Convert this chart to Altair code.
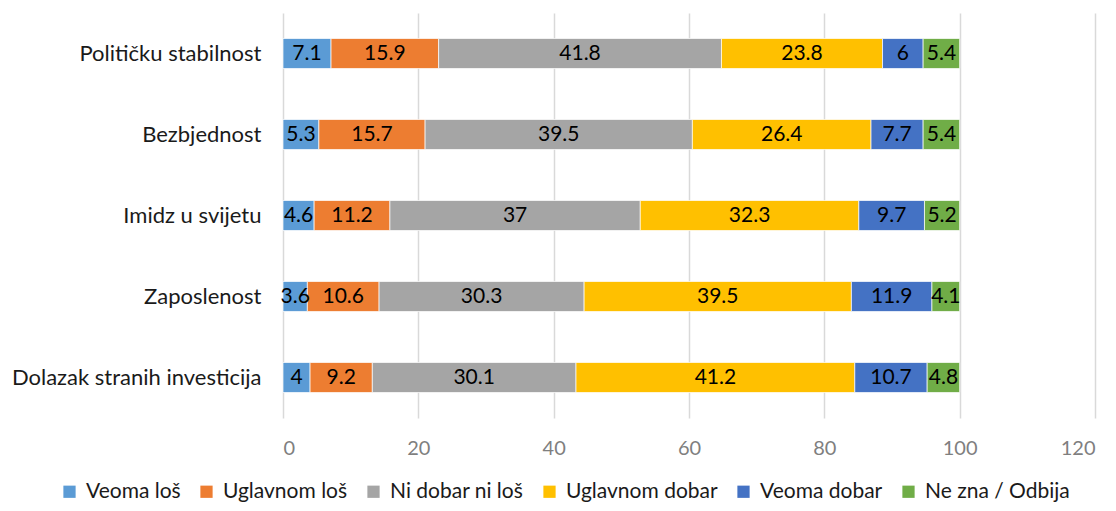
import altair as alt
import pandas as pd

categories = ["Političku stabilnost", "Bezbjednost", "Imidz u svijetu", "Zaposlenost", "Dolazak stranih investicija"]
series = ["Veoma loš", "Uglavnom loš", "Ni dobar ni loš", "Uglavnom dobar", "Veoma dobar", "Ne zna / Odbija"]
colors = ["#5B9BD5", "#ED7D31", "#A5A5A5", "#FFC000", "#4472C4", "#70AD47"]

veoma_los = [7.1, 5.3, 4.6, 3.6, 4]
uglavnom_los = [15.9, 15.7, 11.2, 10.6, 9.2]
ni_dobar = [41.8, 39.5, 37, 30.3, 30.1]
uglavnom_dobar = [23.8, 26.4, 32.3, 39.5, 41.2]
veoma_dobar = [6, 7.7, 9.7, 11.9, 10.7]
ne_zna = [5.4, 5.4, 5.2, 4.1, 4.8]
x_ticks = [0, 20, 40, 60, 80, 100, 120]

values = [veoma_los, uglavnom_los, ni_dobar, uglavnom_dobar, veoma_dobar, ne_zna]
rows = []
for si, (s, vals) in enumerate(zip(series, values)):
    for c, v in zip(categories, vals):
        rows.append({"cat": c, "series": s, "order": si, "value": v, "label": f"{v:g}"})
df = pd.DataFrame(rows)

FONT = "Lato"

base = alt.Chart(df).transform_stack(
    stack="value", groupby=["cat"], as_=["x0", "x1"], sort=[alt.SortField("order")]
).transform_calculate(mid="(datum.x0 + datum.x1) / 2")

y_enc = alt.Y("cat:N", sort=categories, title=None,
              scale=alt.Scale(paddingInner=0.63, paddingOuter=0.315),
              axis=alt.Axis(domain=False, ticks=False, labelFontSize=22, labelColor="#1a1a1a",
                            labelFont=FONT, labelPadding=22, grid=False, labelLimit=400))

bars = base.mark_bar(stroke="white", strokeWidth=0.7).encode(
    x=alt.X("x0:Q", title=None,
            scale=alt.Scale(domain=[0, 120], nice=False),
            axis=alt.Axis(values=x_ticks, domain=False, ticks=False,
                          labelFontSize=20, labelColor="#7F7F7F", labelFont=FONT, labelPadding=20,
                          grid=True, gridColor="#D9D9D9", gridWidth=1.5)),
    x2="x1:Q",
    y=y_enc,
    color=alt.Color("series:N", sort=series,
                    scale=alt.Scale(domain=series, range=colors),
                    legend=alt.Legend(title=None, orient="none", direction="horizontal", columns=6,
                                      legendX=-224, legendY=468, symbolType="square", symbolSize=150,
                                      symbolStrokeWidth=0, labelFontSize=21, labelColor="#1a1a1a",
                                      labelFont=FONT, columnPadding=15, labelOffset=6,
                                      labelLimit=400, padding=0)),
)

texts = base.mark_text(fontSize=21, font=FONT, color="#000000").encode(
    x="mid:Q",
    y=alt.Y("cat:N", sort=categories),
    text="label:N",
)

chart = (bars + texts).properties(
    width=812, height=405,
    autosize=alt.AutoSizeParams(type="none"),
    padding={"left": 275, "top": 5, "right": 13, "bottom": 85},
).configure_view(stroke=None)

chart.save("out.html", embed_options={"renderer": "svg", "actions": False})
